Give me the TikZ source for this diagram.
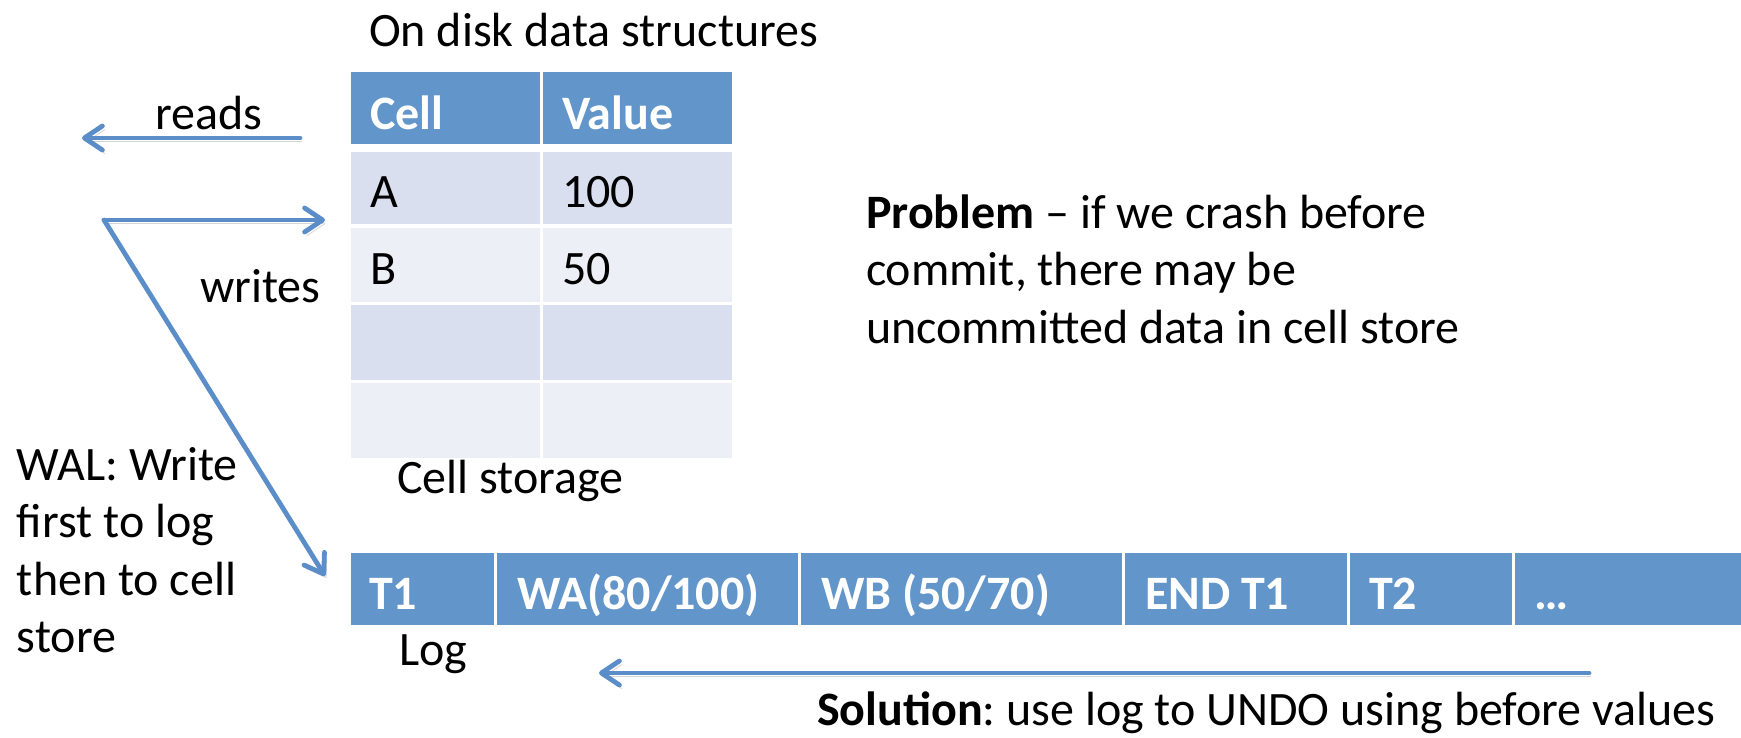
\documentclass[tikz,border=0pt]{standalone}
\usepackage{fontspec}
\setmainfont{Carlito}
\frenchspacing
\usetikzlibrary{arrows.meta}
\definecolor{hdr}{HTML}{6295C9}
\definecolor{rowa}{HTML}{D9DFEE}
\definecolor{rowb}{HTML}{ECEFF6}
\definecolor{arr}{HTML}{5B8EC8}
\begin{document}
\begin{tikzpicture}[x=0.5pt,y=-0.5pt,
  box/.style={rectangle, inner sep=0, outer sep=0, anchor=north west, draw=none},
  hcell/.style={box, fill=hdr},
  acell/.style={box, fill=rowa},
  bcell/.style={box, fill=rowb},
  txt/.style={inner sep=0, outer sep=0, anchor=base west, font=\fontsize{24}{29}\selectfont},
  wtxt/.style={txt, text=white, font=\fontsize{24}{29}\selectfont\bfseries},
  arrowline/.style={draw=arr, line width=2.4pt, line cap=round,
    -{Straight Barb[length=9pt,width=12pt,line cap=round,line join=round]},
    preaction={draw=black!50, opacity=0.35, transform canvas={xshift=1.2pt,yshift=-1.8pt}}}
]
\useasboundingbox (0,0) rectangle (1741,738);

% title
\node[txt] (title) at (369,47) {On disk data structures};

% table
\node[hcell, minimum width=94.5pt, minimum height=36pt] (h1) at (351,72) {};
\node[hcell, minimum width=94.5pt, minimum height=36pt] (h2) at (543,72) {};
\node[acell, minimum width=94.5pt, minimum height=36pt] (a1) at (351,152) {};
\node[acell, minimum width=94.5pt, minimum height=36pt] (a2) at (543,152) {};
\node[bcell, minimum width=94.5pt, minimum height=37pt] (b1) at (351,228) {};
\node[bcell, minimum width=94.5pt, minimum height=37pt] (b2) at (543,228) {};
\node[acell, minimum width=94.5pt, minimum height=37.5pt] (c1) at (351,305) {};
\node[acell, minimum width=94.5pt, minimum height=37.5pt] (c2) at (543,305) {};
\node[bcell, minimum width=94.5pt, minimum height=37.5pt] (d1) at (351,383) {};
\node[bcell, minimum width=94.5pt, minimum height=37.5pt] (d2) at (543,383) {};

\node[wtxt] (tcell) at (370,130) {Cell};
\node[wtxt] (tvalue) at (562,130) {Value};
\node[txt] (ta) at (370,207) {A};
\node[txt] (t100) at (562,207) {100};
\node[txt] (tb) at (370,284) {B};
\node[txt] (t50) at (562,284) {50};

\node[txt] (cellstorage) at (397,493) {Cell storage};

% log bar
\node[hcell, minimum width=71.5pt, minimum height=36pt] (l1) at (351,553) {};
\node[hcell, minimum width=150.5pt, minimum height=36pt] (l2) at (497,553) {};
\node[hcell, minimum width=160.5pt, minimum height=36pt] (l3) at (801,553) {};
\node[hcell, minimum width=111pt, minimum height=36pt] (l4) at (1125,553) {};
\node[hcell, minimum width=81pt, minimum height=36pt] (l5) at (1350,553) {};
\node[hcell, minimum width=113pt, minimum height=36pt] (l6) at (1515,553) {};

\node[wtxt] (lt1) at (369,609) {T1};
\node[wtxt] (lt2) at (517,609) {WA(80/100)};
\node[wtxt] (lt3) at (821,609) {WB (50/70)};
\node[wtxt] (lt4) at (1145,609) {END T1};
\node[wtxt] (lt5) at (1369,609) {T2};
\node[wtxt] (lt6) at (1534,609) {\dots};

\node[txt] (log) at (399,665) {Log};

% labels
\node[txt] (reads) at (155,130) {reads};
\node[txt] (writes) at (200,302) {writes};

\node[txt] (wal1) at (17,480) {WAL: Write};
\node[txt] (wal2) at (17,537) {first to log};
\node[txt] (wal3) at (17,595) {then to cell};
\node[txt] (wal4) at (17,652) {store};

\node[txt] (prob1) at (866,228) {\textbf{Problem} – if we crash before};
\node[txt] (prob2) at (866,285) {commit, there may be};
\node[txt] (prob3) at (866,343) {uncommitted data in cell store};

\node[txt] (sol) at (817,725) {\textbf{Solution}: use log to UNDO using before values};

% connectors
\coordinate (readsTail) at (300,138);
\coordinate (readsTip) at (82,138);
\coordinate (wstart) at (104,220);
\coordinate (wTip) at (325,220);
\coordinate (walTip) at (325,576);
\coordinate (undoTail) at (1589,673);
\coordinate (undoTip) at (599,673);

\draw[arrowline] (readsTail) -- (readsTip);
\draw[arrowline] (wstart) -- (wTip);
\draw[arrowline] (wstart) -- (walTip);
\draw[arrowline] (undoTail) -- (undoTip);
\end{tikzpicture}
\end{document}
